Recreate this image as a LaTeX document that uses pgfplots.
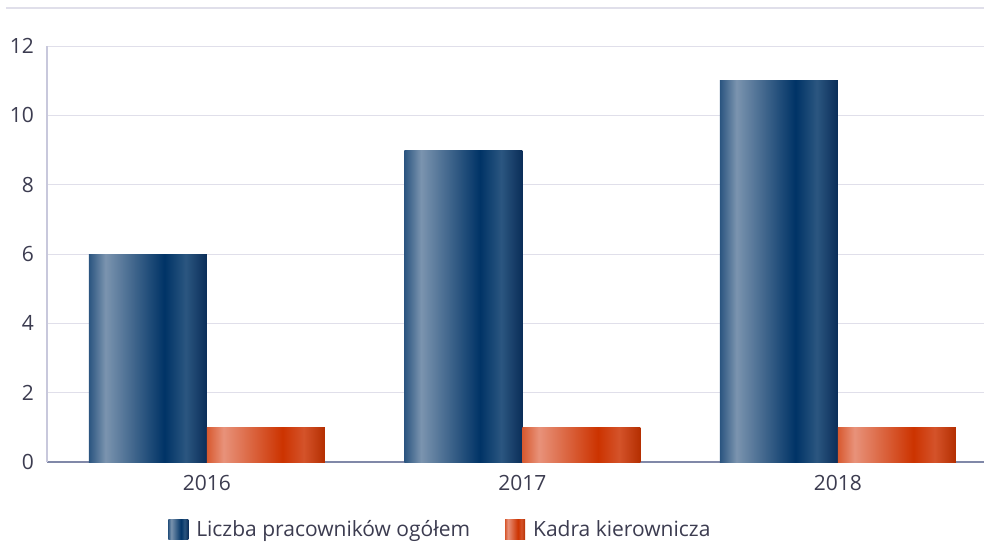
\documentclass[border=0pt]{standalone}
\usepackage{fontspec}
\setmainfont{Open Sans}
\usepackage{pgfplots}
\pgfplotsset{compat=1.18}
\definecolor{txt}{HTML}{3C3C50}
\definecolor{gridc}{HTML}{E0DFEA}
\definecolor{ylinec}{HTML}{C8C8DC}
\definecolor{xlinec}{HTML}{8088A8}
\definecolor{b1}{HTML}{2B5580}
\definecolor{b2}{HTML}{7B94AF}
\definecolor{b3}{HTML}{003366}
\definecolor{b4}{HTML}{2B5680}
\definecolor{b5}{HTML}{0A2D58}
\definecolor{o1}{HTML}{D85A30}
\definecolor{o2}{HTML}{E8927A}
\definecolor{o3}{HTML}{CC3300}
\definecolor{o4}{HTML}{D4532A}
\definecolor{o5}{HTML}{B42E00}
\pgfdeclarehorizontalshading{bluebar}{100bp}{color(0bp)=(b1); color(25bp)=(b1); color(32bp)=(b2); color(57bp)=(b3); color(66bp)=(b4); color(75bp)=(b5); color(100bp)=(b5)}
\pgfdeclarehorizontalshading{orangebar}{100bp}{color(0bp)=(o1); color(25bp)=(o1); color(32bp)=(o2); color(57bp)=(o3); color(66bp)=(o4); color(75bp)=(o5); color(100bp)=(o5)}
\begin{document}
\begin{tikzpicture}
\begin{axis}[
  scale only axis,
  width=468.5pt, height=208pt,
  xmin=-0.507, xmax=2.463,
  ymin=0, ymax=12,
  ytick={0,2,4,6,8,10,12},
  xtick={0,1,2},
  xticklabels={2016,2017,2018},
  ymajorgrids,
  grid style={gridc, line width=0.5pt},
  axis lines*=left,
  x axis line style={xlinec, line width=0.6pt, -},
  y axis line style={ylinec, line width=0.6pt, -},
  major tick length=0pt,
  tick style={draw=none},
  /pgf/number format/assume math mode=true,
  tick label style={text=txt, font=\fontsize{10.5}{12}\selectfont},
  yticklabel style={xshift=-3pt},
  xticklabel style={yshift=-3pt},
  legend columns=2,
  legend style={at={(0.129,0)}, anchor=north west, yshift=-27pt, draw=none, fill=none, inner sep=0pt,
     font=\fontsize{10.5}{12}\selectfont, text=txt,
     nodes={inner xsep=4pt},
     /tikz/every even column/.append style={column sep=13.5pt}},
  legend image code/.code={\path[#1] (0pt,-5pt) rectangle (10pt,5pt);},
  bluestyle/.style={ybar, bar width=0.374, bar shift=-0.187, draw=none, shading=bluebar},
  orangestyle/.style={ybar, bar width=0.374, bar shift=0.187, draw=none, shading=orangebar},
]
\addplot[bluestyle] coordinates {(0,6)};
\addlegendentry{Liczba pracowników ogółem}
\addplot[orangestyle] coordinates {(0,1)};
\addlegendentry{Kadra kierownicza}
\addplot[bluestyle, forget plot] coordinates {(1,9)};
\addplot[bluestyle, forget plot] coordinates {(2,11)};
\addplot[orangestyle, forget plot] coordinates {(1,1)};
\addplot[orangestyle, forget plot] coordinates {(2,1)};
\end{axis}
\draw[color=gridc, line width=1pt] (-20.5pt,227pt) -- (468.5pt,227pt);
\pgfresetboundingbox
\path[use as bounding box] (-23.5pt,-40pt) rectangle (468.5pt,231pt);
\end{tikzpicture}
\end{document}
